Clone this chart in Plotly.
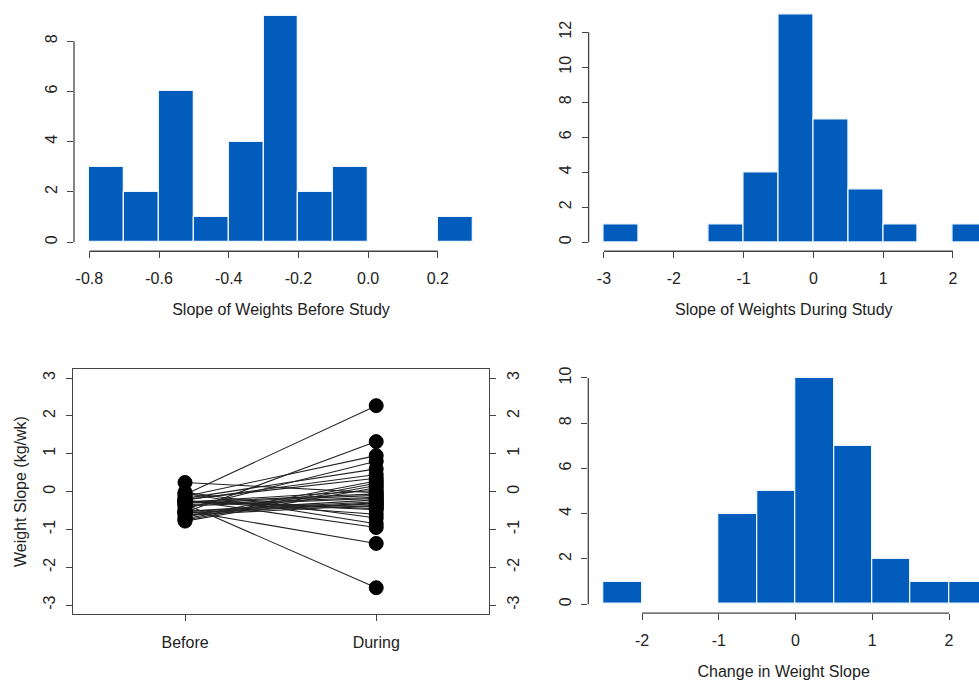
import plotly.graph_objects as go

# Paired weight slopes (kg/wk) for each participant
before = [-0.08, -0.55, -0.33, -0.13, -0.45, -0.51, -0.23, -0.05, -0.02, -0.18,
          -0.22, -0.21, -0.68, -0.72, -0.75, -0.78, 0.24, -0.24, -0.25, -0.26,
          -0.27, -0.62, -0.58, -0.56, -0.53, -0.52, -0.38, -0.35, -0.31, -0.29,
          -0.28]
during = [2.27, 1.32, -2.54, 0.95, 0.80, -1.37, -0.95, -0.85, -0.70, 0.60,
          0.45, 0.35, 0.28, 0.22, 0.16, 0.10, -0.03, -0.60, -0.48, -0.45,
          -0.40, -0.36, -0.32, -0.30, -0.27, -0.22, -0.18, -0.15, -0.10, -0.06,
          0.03]
change = [round(d - b, 4) for b, d in zip(before, during)]

# Tick values / labels
tl_xticks = [-0.8, -0.6, -0.4, -0.2, 0.0, 0.2]
tl_xtext = ["-0.8", "-0.6", "-0.4", "-0.2", "0.0", "0.2"]
tl_yticks = [0, 2, 4, 6, 8]
tr_xticks = [-3, -2, -1, 0, 1, 2]
tr_yticks = [0, 2, 4, 6, 8, 10, 12]
bl_yticks = [-3, -2, -1, 0, 1, 2, 3]
bl_cats = ["Before", "During"]
br_xticks = [-2, -1, 0, 1, 2]
br_yticks = [0, 2, 4, 6, 8, 10]

BLUE = "#025CBC"
AX = "#444444"
TXT = "#222222"
FONT = "Liberation Sans, Arial, sans-serif"
FS = 16
W, H = 979, 684


def px_x(a, b):
    return [a / W, b / W]


def px_y(top, bottom):
    return [1 - bottom / H, 1 - top / H]


def lab(vals):
    return [str(v) for v in vals]


fig = go.Figure()

hist_line = dict(color="rgba(235,243,252,1)", width=1.3)

fig.add_trace(go.Histogram(x=before, xbins=dict(start=-0.8, end=0.3, size=0.1),
                           autobinx=False, marker=dict(color=BLUE, line=hist_line),
                           xaxis="x", yaxis="y", hoverinfo="skip"))
fig.add_trace(go.Histogram(x=during, xbins=dict(start=-3.0, end=2.5, size=0.5),
                           autobinx=False, marker=dict(color=BLUE, line=hist_line),
                           xaxis="x2", yaxis="y2", hoverinfo="skip"))
fig.add_trace(go.Histogram(x=change, xbins=dict(start=-2.5, end=2.5, size=0.5),
                           autobinx=False, marker=dict(color=BLUE, line=hist_line),
                           xaxis="x4", yaxis="y4", hoverinfo="skip"))

# Paired lines
lx, ly = [], []
for b, d in zip(before, during):
    lx += [1, 2, None]
    ly += [b, d, None]
fig.add_trace(go.Scatter(x=lx, y=ly, mode="lines", line=dict(color="#222222", width=1.1),
                         xaxis="x3", yaxis="y3", hoverinfo="skip"))
fig.add_trace(go.Scatter(x=[1] * len(before) + [2] * len(during), y=before + during,
                         mode="markers",
                         marker=dict(color="black", size=14, line=dict(color="black", width=1)),
                         xaxis="x3", yaxis="y3", hoverinfo="skip"))

tickfont = dict(family=FONT, size=FS, color=TXT)
titlefont = dict(family=FONT, size=FS, color=TXT)


def xax(domain, rng, tickvals, ticktext, title=None, anchor="y"):
    d = dict(domain=domain, range=rng, anchor=anchor, tickmode="array", tickvals=tickvals,
             ticktext=ticktext,
             ticks="outside", ticklen=6, tickcolor=AX, tickwidth=1, showline=False,
             showgrid=False, zeroline=False, tickfont=tickfont, ticklabelstandoff=7,
             fixedrange=True)
    if title:
        d["title"] = dict(text=title, font=titlefont, standoff=17)
    return d


def yax(domain, rng, tickvals, anchor="x", title=None):
    d = dict(domain=domain, range=rng, anchor=anchor, tickmode="array", tickvals=tickvals,
             ticktext=lab(tickvals),
             ticks="outside", ticklen=6, tickcolor=AX, tickwidth=1, showline=False,
             showgrid=False, zeroline=False, tickfont=tickfont, tickangle=-90,
             ticklabelstandoff=4, fixedrange=True)
    if title:
        d["title"] = dict(text=title, font=titlefont, standoff=10)
    return d


layout = dict(
    width=W, height=H, margin=dict(l=0, r=0, t=0, b=0),
    paper_bgcolor="white", plot_bgcolor="white", showlegend=False, bargap=0,
    xaxis=xax(px_x(74, 488), [-0.844, 0.344], tl_xticks, tl_xtext,
              "Slope of Weights Before Study", anchor="y"),
    yaxis=yax(px_y(5, 250), [-0.36, 9.36], tl_yticks, anchor="x"),
    xaxis2=xax(px_x(588.6, 979), [-3.22, 2.373], tr_xticks, lab(tr_xticks),
               "Slope of Weights During Study", anchor="y2"),
    yaxis2=yax(px_y(3.6, 250), [-0.52, 13.52], tr_yticks, anchor="x2"),
    xaxis3=xax(px_x(73, 489), [0.414, 2.59], [1, 2], bl_cats, None, anchor="y3"),
    yaxis3=yax(px_y(368, 614), [-3.24, 3.24], bl_yticks, anchor="x3",
               title="Weight Slope (kg/wk)"),
    xaxis4=xax(px_x(588.3, 979), [-2.7, 2.39], br_xticks, lab(br_xticks),
               "Change in Weight Slope", anchor="y4"),
    yaxis4=yax(px_y(368, 613), [-0.4, 10.4], br_yticks, anchor="x4"),
)
layout["xaxis3"].update(showline=True, mirror=True, linecolor=AX, linewidth=1.3)
layout["yaxis3"].update(showline=True, mirror=True, linecolor=AX, linewidth=1.3)
# right-hand axis of the paired plot
y5 = yax(px_y(368, 614), [-3.24, 3.24], bl_yticks, anchor="x3")
y5.update(overlaying="y3", side="right")
layout["yaxis5"] = y5
fig.update_layout(**layout)
# invisible trace to activate yaxis5
fig.add_trace(go.Scatter(x=[None], y=[None], xaxis="x3", yaxis="y5", hoverinfo="skip"))

# R-style axis lines spanning first to last tick
line = dict(color=AX, width=1.3)
for xr, yr, xt, yt in [("x", "y", tl_xticks, tl_yticks), ("x2", "y2", tr_xticks, tr_yticks),
                       ("x4", "y4", br_xticks, br_yticks)]:
    fig.add_shape(type="line", xref=xr, yref=yr + " domain", x0=min(xt), x1=max(xt),
                  y0=0, y1=0, line=line)
    fig.add_shape(type="line", xref=xr + " domain", yref=yr, x0=0, x1=0,
                  y0=min(yt), y1=max(yt), line=line)

fig.write_html("out.html", config={"displayModeBar": False},
               post_script="document.body.style.margin='0';")
